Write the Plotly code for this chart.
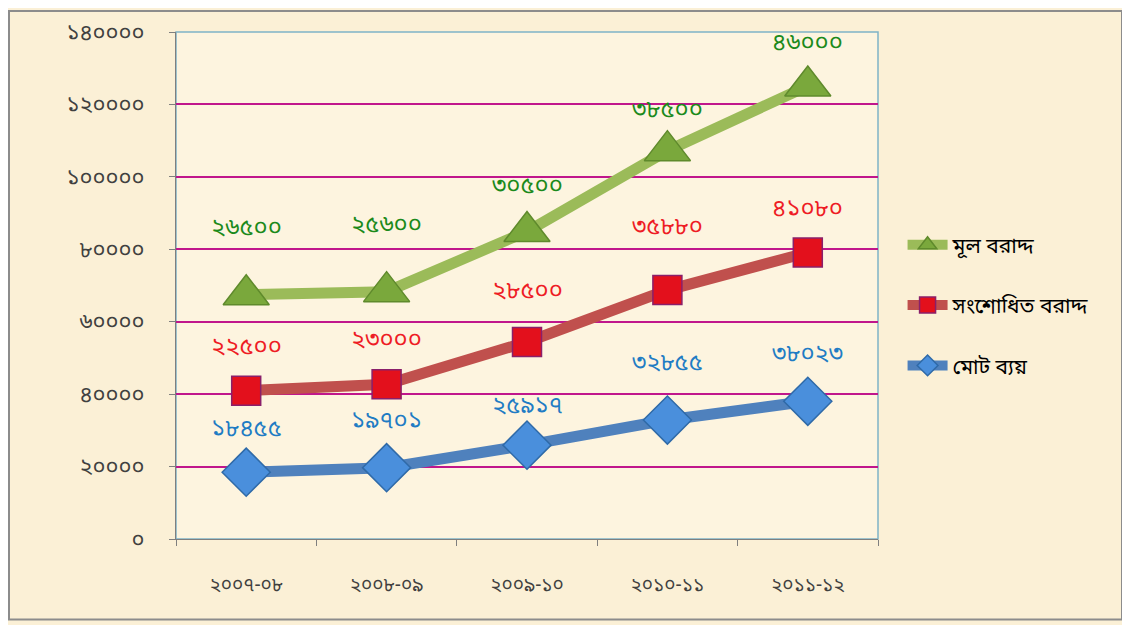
import numpy as np
import plotly.graph_objects as go

categories = ["২০০৭-০৮", "২০০৮-০৯", "২০০৯-১০", "২০১০-১১", "২০১১-১২"]
series_names = ["মোট ব্যয়", "সংশোধিত বরাদ্দ", "মূল বরাদ্দ"]
total_spend = [18455, 19701, 25917, 32855, 38023]
revised_alloc = [22500, 23000, 28500, 35880, 41080]
original_alloc = [26500, 25600, 30500, 38500, 46000]
y_tickvals = [0, 20000, 40000, 60000, 80000, 100000, 120000, 140000]

BN = str.maketrans("0123456789", "০১২৩৪৫৬৭৮৯")
def bn(v):
    return str(v).translate(BN)

values = [total_spend, revised_alloc, original_alloc]
stacked = np.cumsum(np.array(values), axis=0)

line_colors = ["#4f81bd", "#c0504d", "#9bbb59"]
marker_colors = ["#4a8fdc", "#e3101c", "#7aa83c"]
marker_lines = ["#2f6aa8", "#8a1f6a", "#5f8a2c"]
symbols = ["diamond", "square", "triangle-up"]
sizes = [37, 29, 40]
text_colors = ["#1f7cc4", "#ee1c25", "#1b8a1b"]
label_shift = [
    [42, 46, 38, 56, 46],
    [43, 43, 50, 62, 43],
    [66, 66, 44, 40, 42],
]

FONT = "Noto Sans Bengali, Vrinda, Noto Sans, sans-serif"

fig = go.Figure()
for i in [2, 1, 0]:
    fig.add_trace(go.Scatter(
        x=categories, y=stacked[i], name=series_names[i],
        mode="lines+markers",
        line=dict(color=line_colors[i], width=11),
        marker=dict(symbol=symbols[i], size=sizes[i], color=marker_colors[i],
                    line=dict(color=marker_lines[i], width=1.5)),
        legendgroup=str(i),
        cliponaxis=False,
    ))

annotations = []
for i in range(3):
    for j, c in enumerate(categories):
        annotations.append(dict(
            x=c, y=stacked[i][j], xref="x", yref="y", text=bn(values[i][j]),
            showarrow=False, yshift=label_shift[i][j],
            font=dict(family=FONT, size=24, color=text_colors[i]),
        ))

fig.update_layout(
    width=1122, height=617,
    margin=dict(l=168, r=252, t=22, b=86),
    paper_bgcolor="#fbf0d6",
    plot_bgcolor="#fdf4df",
    font=dict(family=FONT, color="#404040", size=17),
    annotations=annotations,
    showlegend=True,
    legend=dict(x=1.035, y=0.62, xanchor="left", yanchor="top",
                font=dict(size=21, color="#000000", family=FONT),
                tracegroupgap=30, bgcolor="rgba(0,0,0,0)", itemwidth=40),
    shapes=[
        dict(type="rect", xref="paper", yref="paper", x0=-0.2379, x1=1.3476,
             y0=-0.159, y1=1.0413, line=dict(color="#8c8c8c", width=2), layer="below"),
        dict(type="rect", xref="paper", yref="paper", x0=0, x1=1, y0=0, y1=1,
             line=dict(color="#7fb3c8", width=1.5), layer="below"),
    ],
)
fig.update_xaxes(
    type="category", tickson="boundaries", ticks="outside", ticklen=6,
    tickcolor="#7f7f7f", showline=True, linecolor="#7f7f7f", linewidth=1,
    showgrid=False, tickfont=dict(size=19, color="#404040"),
    range=[-0.5, 4.5], ticklabelstandoff=28,
)
fig.update_yaxes(
    range=[0, 140000], tickvals=y_tickvals, ticktext=[bn(v) for v in y_tickvals],
    ticks="outside", ticklen=6, tickcolor="#7f7f7f", showline=True,
    linecolor="#7f7f7f", linewidth=1, showgrid=True, gridcolor="#c0168c",
    gridwidth=2, zeroline=False, tickfont=dict(size=22, color="#404040"),
    ticklabelstandoff=20,
)

fig.write_html("out.html")
